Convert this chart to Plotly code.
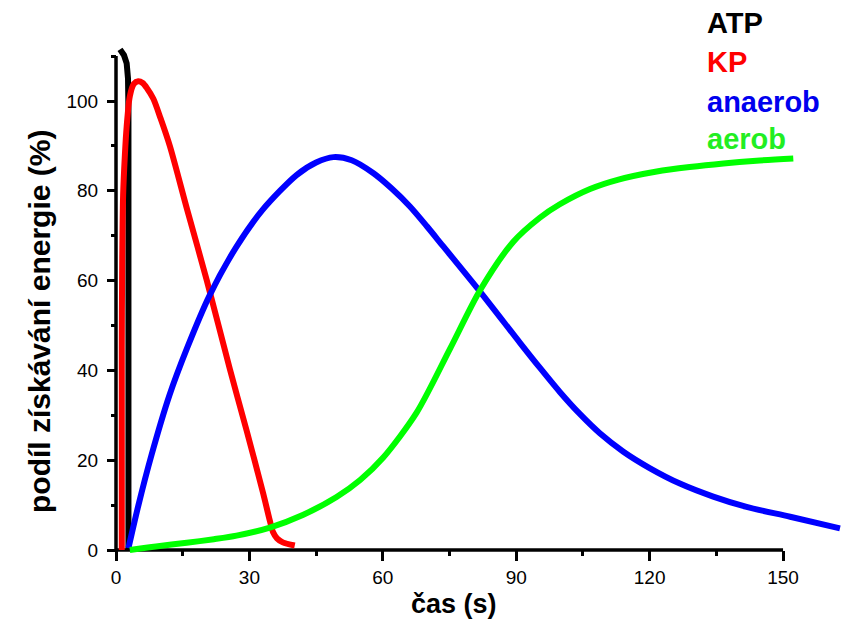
import plotly.graph_objects as go

# ---- data ----
atp_x = [0.9, 1.8, 2.4, 2.7, 2.8, 2.8]
atp_y = [111.5, 110.2, 108.4, 105.0, 98.0, 0.0]

kp_x = [1.3, 1.3, 1.4, 1.6, 2.0, 2.4, 3.1, 4.0, 5.0, 6.0, 7.0, 8.4, 10.0, 12.1,
        16.0, 20.4, 25.6, 29.4, 33.1, 34.6, 35.3, 36.2, 37.5, 40.2]
kp_y = [0.0, 45.0, 65.0, 79.0, 88.0, 94.3, 101.0, 103.8, 104.4, 104.0, 102.8, 100.5,
        96.2, 90.0, 75.8, 60.1, 40.3, 26.5, 12.6, 6.5, 4.0, 2.6, 1.7, 1.0]

anaerob_x = [2.8, 5.0, 8.0, 12.0, 16.0, 21.0, 27.0, 33.0, 40.6, 45.0, 48.9, 53.0,
             57.9, 62.0, 66.1, 69.9, 73.6, 81.9, 90.8, 95.3, 99.8, 104.3, 108.8,
             114.1, 120.1, 126.8, 134.3, 141.8, 151.6, 162.8]
anaerob_y = [0.4, 9.8, 21.2, 34.4, 45.0, 56.6, 67.4, 75.8, 83.5, 86.3, 87.5, 86.8,
             83.9, 80.5, 76.5, 72.1, 67.6, 57.5, 46.2, 40.6, 35.2, 30.3, 26.0,
             21.9, 18.2, 14.8, 11.9, 9.6, 7.4, 4.8]

aerob_x = [3.1, 9.0, 15.9, 22.0, 27.1, 34.6, 42.0, 49.6, 54.9, 60.1, 67.6, 75.1,
           81.9, 89.3, 95.3, 99.8, 106.6, 113.0, 121.6, 129.0, 136.6, 144.0, 152.3]
aerob_y = [0.0, 0.8, 1.6, 2.4, 3.2, 5.0, 7.8, 11.8, 15.6, 20.6, 30.6, 44.8,
           57.9, 68.6, 74.0, 77.0, 80.4, 82.5, 84.3, 85.3, 86.1, 86.7, 87.2]

series_names = ["ATP", "KP", "anaerob", "aerob"]
series_colors = ["#000000", "#FF0000", "#0000FF", "#00FF00"]
label_colors = ["#000000", "#FF0000", "#0000EE", "#22EE22"]

x_ticks = [0, 30, 60, 90, 120, 150]
x_tick_labels = ["0", "30", "60", "90", "120", "150"]
y_ticks = [0, 20, 40, 60, 80, 100]
y_tick_labels = ["0", "20", "40", "60", "80", "100"]
y_axis_top = 110

x_title = "čas (s)"
y_title = "podíl získávání energie (%)"

# ---- layout geometry ----
W, H = 844, 619
ml, mr, mt, mb = 111, 1, 43, 64
pw, ph = W - ml - mr, H - mt - mb
kx, ky = 4.447, 4.49          # pixels per data unit
x0 = -5 / kx
y0 = -5 / ky
xr = [x0, x0 + pw / kx]
yr = [y0, y0 + ph / ky]

fig = go.Figure()
data = [(atp_x, atp_y, "linear"), (kp_x, kp_y, "spline"),
        (anaerob_x, anaerob_y, "spline"), (aerob_x, aerob_y, "spline")]
for (xs, ys, shp), name, col in zip(data, series_names, series_colors):
    line = dict(color=col, width=6, shape=shp)
    if shp == "spline":
        line["smoothing"] = 0.8
    fig.add_trace(go.Scatter(x=xs, y=ys, mode="lines", name=name, line=line,
                             showlegend=False, hoverinfo="skip"))

tickfont = dict(family="Arial, Liberation Sans, sans-serif", size=19, color="black")
fig.update_xaxes(range=xr, anchor="free", position=5 / ph, showline=False,
                 showgrid=False, zeroline=False, tickmode="array",
                 tickvals=x_ticks, ticktext=x_tick_labels, ticks="outside",
                 ticklen=10, tickwidth=3, tickcolor="black", tickfont=tickfont,
                 minor=dict(dtick=15, tick0=0, ticks="outside", ticklen=5,
                            tickwidth=3, tickcolor="black", showgrid=False),
                 automargin=False, fixedrange=True)
fig.update_yaxes(range=yr, anchor="free", position=5 / pw, showline=False,
                 showgrid=False, zeroline=False, tickmode="array",
                 tickvals=y_ticks, ticktext=y_tick_labels, ticks="outside",
                 ticklen=9, tickwidth=3, tickcolor="black", tickfont=tickfont,
                 ticklabelstandoff=5,
                 minor=dict(dtick=10, tick0=0, ticks="outside", ticklen=5,
                            tickwidth=3, tickcolor="black", showgrid=False),
                 automargin=False, fixedrange=True)

# axis lines (from 0 to the last tick)
fig.add_shape(type="line", xref="x", yref="y", x0=x_ticks[0], x1=x_ticks[-1],
              y0=y_ticks[0], y1=y_ticks[0], line=dict(color="black", width=3.5),
              layer="below")
fig.add_shape(type="line", xref="x", yref="y", x0=x_ticks[0], x1=x_ticks[0],
              y0=y_ticks[0], y1=y_axis_top, line=dict(color="black", width=3.5),
              layer="below")

titlefont = dict(family="Arial, Liberation Sans, sans-serif", color="black")
fig.add_annotation(text="<b>%s</b>" % x_title, xref="paper", yref="paper",
                   x=(454 - ml) / pw, y=(mt + ph - 604) / ph, xanchor="center",
                   yanchor="middle", showarrow=False, font=dict(size=27, **titlefont))
fig.add_annotation(text="<b>%s</b>" % y_title, xref="paper", yref="paper",
                   x=(39 - ml) / pw, y=(mt + ph - 322) / ph, xanchor="center",
                   yanchor="middle", textangle=-90, showarrow=False,
                   font=dict(size=30, **titlefont))

legend_py = [23, 62, 102, 139]
for name, col, py in zip(series_names, label_colors, legend_py):
    fig.add_annotation(text="<b>%s</b>" % name, xref="paper", yref="paper",
                       x=(705 - ml) / pw, y=(mt + ph - py) / ph, xanchor="left",
                       yanchor="middle", showarrow=False,
                       font=dict(family="Arial, Liberation Sans, sans-serif",
                                 size=29, color=col))

fig.update_layout(width=W, height=H, margin=dict(l=ml, r=mr, t=mt, b=mb),
                  plot_bgcolor="white", paper_bgcolor="white", showlegend=False)

fig.write_html("out.html", config={"displayModeBar": False},
               post_script="document.body.style.margin='0px';"
                           "document.body.style.overflow='hidden';")
